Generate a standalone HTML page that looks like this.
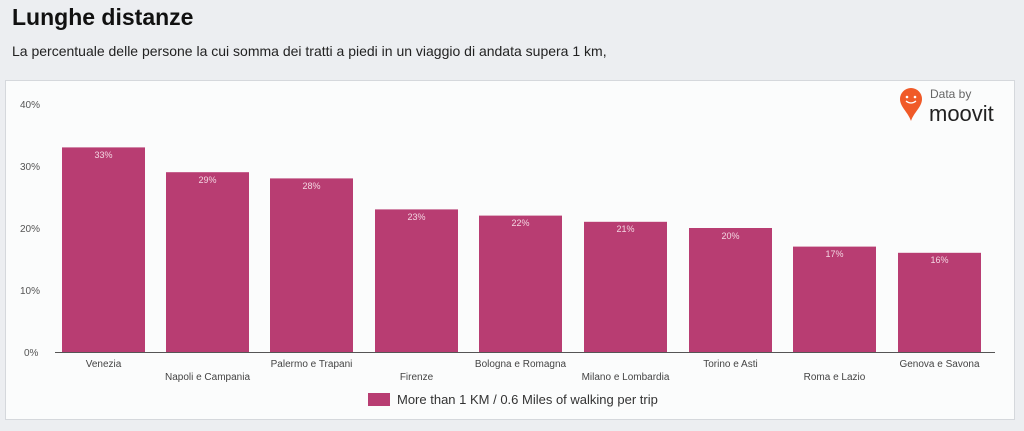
<!DOCTYPE html>
<html><head><style>
body{margin:0;width:1024px;height:431px;background:#eceef1;font-family:"Liberation Sans",sans-serif;overflow:hidden;position:relative}
h1{position:absolute;left:12px;top:4px;margin:0;font-size:23px;font-weight:bold;color:#111}
.sub{position:absolute;left:12px;top:43px;font-size:14px;color:#222}
.panel{position:absolute;left:5px;top:80px;width:1008px;height:338px;background:#fbfcfc;border:1px solid #d5d8dc}
</style></head><body>
<h1>Lunghe distanze</h1>
<div class="sub">La percentuale delle persone la cui somma dei tratti a piedi in un viaggio di andata supera 1 km,</div>
<div class="panel"></div>
<svg width="1024" height="431" style="position:absolute;left:0;top:0" font-family="Liberation Sans,sans-serif">
<g font-size="10" fill="#555" text-anchor="start">
<text x="20" y="108">40%</text><text x="20" y="170">30%</text><text x="20" y="232">20%</text><text x="20" y="294">10%</text><text x="24" y="356">0%</text>
</g>
<line x1="55" y1="352.5" x2="995" y2="352.5" stroke="#555" stroke-width="1"/>
<g fill="#b83d72">
<rect x="62" y="147.4" width="83" height="204.6"/>
<rect x="166" y="172.2" width="83" height="179.8"/>
<rect x="270" y="178.4" width="83" height="173.6"/>
<rect x="375" y="209.4" width="83" height="142.6"/>
<rect x="479" y="215.6" width="83" height="136.4"/>
<rect x="584" y="221.8" width="83" height="130.2"/>
<rect x="689" y="228" width="83" height="124"/>
<rect x="793" y="246.6" width="83" height="105.4"/>
<rect x="898" y="252.8" width="83" height="99.2"/>
</g>
<g font-size="9" fill="#f3d6e2" text-anchor="middle">
<text x="103.5" y="158">33%</text><text x="207.5" y="183">29%</text><text x="311.5" y="189">28%</text><text x="416.5" y="220">23%</text><text x="520.5" y="226">22%</text><text x="625.5" y="232">21%</text><text x="730.5" y="239">20%</text><text x="834.5" y="257">17%</text><text x="939.5" y="263">16%</text>
</g>
<g font-size="10" fill="#444" text-anchor="middle">
<text x="103.5" y="367">Venezia</text><text x="207.5" y="380">Napoli e Campania</text><text x="311.5" y="367">Palermo e Trapani</text><text x="416.5" y="380">Firenze</text><text x="520.5" y="367">Bologna e Romagna</text><text x="625.5" y="380">Milano e Lombardia</text><text x="730.5" y="367">Torino e Asti</text><text x="834.5" y="380">Roma e Lazio</text><text x="939.5" y="367">Genova e Savona</text>
</g>
<rect x="368" y="393" width="22" height="13" fill="#b83d72"/>
<text x="397" y="404" font-size="13" fill="#333">More than 1 KM / 0.6 Miles of walking per trip</text>
<path d="M911 88 a11 11 0 0 1 11 11 c0 8 -8 13 -11 22 c-3 -9 -11 -14 -11 -22 a11 11 0 0 1 11 -11z" fill="#f05a28"/>
<circle cx="907" cy="97" r="1.3" fill="#fff"/><circle cx="915" cy="97" r="1.3" fill="#fff"/>
<path d="M906 101 q5 4 10 0" stroke="#fff" stroke-width="1.3" fill="none"/>
<text x="930" y="98" font-size="12" fill="#666">Data by</text>
<text x="929" y="121" font-size="22" fill="#222">moovit</text>
</svg>
</body></html>
